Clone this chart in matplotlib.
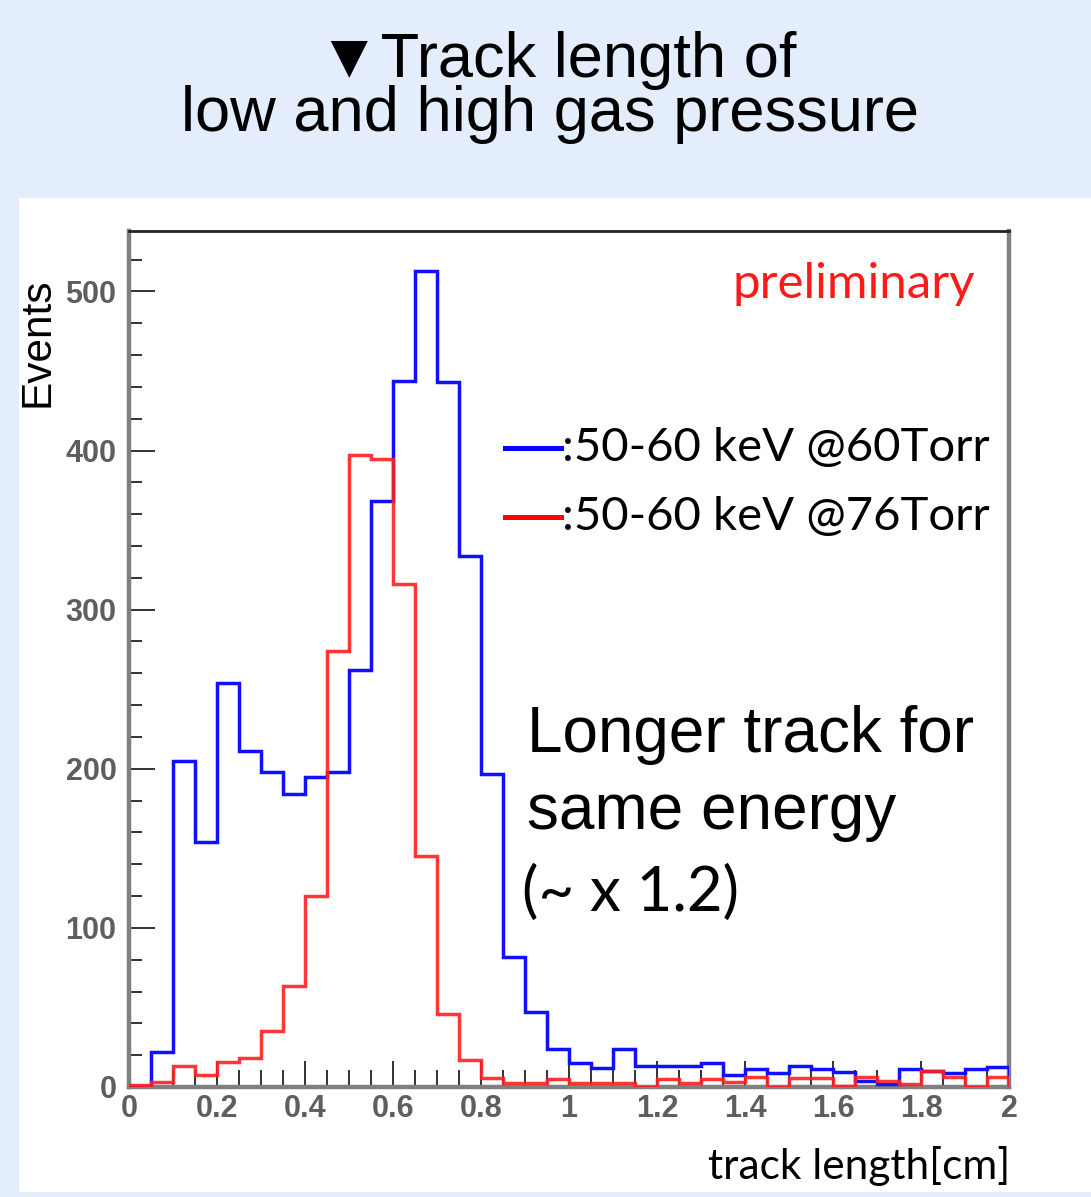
import numpy as np
import matplotlib
matplotlib.use("Agg")
import matplotlib.pyplot as plt
from matplotlib.patches import Rectangle
from matplotlib.lines import Line2D
from matplotlib.ticker import MultipleLocator

# ---------------- data ----------------
x_min, x_max, n_bins = 0.0, 2.0, 40
blue_counts = [0, 22, 205, 154, 254, 211, 198, 184, 195, 198,
               262, 368, 444, 513, 443, 334, 197, 82, 47, 24,
               15, 12, 24, 13, 13, 13, 15, 7.5, 11.5, 9,
               13, 11.5, 9.5, 4, 2, 11.5, 10, 9, 11.5, 12.5]
red_counts = [1, 3, 13, 7.5, 15.5, 18.5, 35, 63.5, 120, 274,
              397, 395, 316, 145, 46, 17, 5.5, 2.3, 2.3, 5,
              2.3, 2.3, 2.3, 0.3, 5, 2.3, 5, 3, 6, 0.3,
              5.5, 5.5, 0.5, 6, 3.7, 1.7, 10, 6, 0.3, 6]
legend_labels = [":50-60 keV @60Torr", ":50-60 keV @76Torr"]
x_ticks = [0, 0.2, 0.4, 0.6, 0.8, 1, 1.2, 1.4, 1.6, 1.8, 2]
x_tick_labels = ["0", "0.2", "0.4", "0.6", "0.8", "1", "1.2", "1.4", "1.6", "1.8", "2"]
y_ticks = [0, 100, 200, 300, 400, 500]
y_tick_labels = ["0", "100", "200", "300", "400", "500"]

W, H = 1091, 1197
fig = plt.figure(figsize=(W / 100, H / 100), dpi=100)
fig.patch.set_facecolor("#e3edfc")

def fx(x):
    return x / W

def fy(y):
    return 1 - y / H

# white panel
fig.patches.append(Rectangle((fx(19), fy(1192)), fx(1091) - fx(19), fy(198) - fy(1192),
                             transform=fig.transFigure, facecolor="white",
                             edgecolor="none", zorder=-5))

# axes
ax_l, ax_r, ax_t, ax_b = 129, 1009, 231, 1087
ax = fig.add_axes([fx(ax_l), fy(ax_b), (ax_r - ax_l) / W, (ax_b - ax_t) / H])
ax.set_zorder(2)
ax.set_facecolor("white")

edges = np.linspace(x_min, x_max, n_bins + 1)
ax.stairs(blue_counts, edges, color="#1010ff", linewidth=2.5, baseline=0, zorder=3)
ax.stairs(red_counts, edges, color="#ff2020", linewidth=2.5, baseline=0, zorder=4, alpha=0.9)

ax.set_xlim(0, 2)
ax.set_ylim(0, 538)

ax.set_xticks(x_ticks)
ax.set_xticklabels(x_tick_labels)
ax.set_yticks(y_ticks)
ax.set_yticklabels(y_tick_labels)
ax.xaxis.set_minor_locator(MultipleLocator(0.05))
ax.yaxis.set_minor_locator(MultipleLocator(20))

for lab in ax.get_xticklabels() + ax.get_yticklabels():
    lab.set_fontfamily(["Liberation Sans", "DejaVu Sans"])
    lab.set_fontweight("bold")
    lab.set_color("#5e5e5e")
    lab.set_fontsize(22)

ax.tick_params(axis="both", which="major", direction="in", length=19, width=1.3, color="#222222")
ax.tick_params(axis="y", which="minor", direction="in", length=9.5, width=1.3, color="#222222")
ax.tick_params(axis="x", which="minor", direction="in", length=12, width=1.3, color="#222222")
ax.tick_params(axis="y", which="major", pad=9)
ax.tick_params(axis="x", which="major", pad=5)

for side in ["left", "bottom", "right"]:
    ax.spines[side].set_color("#808080")
    ax.spines[side].set_linewidth(3.2)
ax.spines["top"].set_color("#222222")
ax.spines["top"].set_linewidth(2.0)

# texts
title_font = ["Liberation Sans", "DejaVu Sans"]
fig.text(fx(557), fy(60), "\u25bcTrack length of", ha="center", va="center",
         fontsize=45.5, family=title_font)
fig.text(fx(550), fy(114), "low and high gas pressure", ha="center", va="center",
         fontsize=45.5, family=title_font)

fig.text(fx(733), fy(284), "preliminary", ha="left", va="center",
         fontsize=35.5, family=["Lato", "DejaVu Sans"], color="#ff1a1a", zorder=5)

# legend
leg_y = [448, 517]
leg_col = ["#0000ff", "#ff0000"]
for yy, cc, lab in zip(leg_y, leg_col, legend_labels):
    fig.lines.append(Line2D([fx(505), fx(561)], [fy(yy), fy(yy)], color=cc,
                            linewidth=3.6, transform=fig.transFigure, zorder=5))
    fig.text(fx(562), fy(yy), lab, ha="left", va="center", fontsize=34,
             family=["Lato", "DejaVu Sans"], color="black", zorder=5)

fig.text(fx(527), fy(735), "Longer track for", ha="left", va="center",
         fontsize=46, family=title_font, zorder=5)
fig.text(fx(527), fy(812), "same energy", ha="left", va="center",
         fontsize=46, family=title_font, zorder=5)
fig.text(fx(522), fy(893), "(~ x 1.2)", ha="left", va="center",
         fontsize=44.5, family=["Lato", "DejaVu Sans"], zorder=5)

fig.text(fx(38), fy(342), "Events", rotation=90, ha="center", va="center",
         fontsize=30.5, family=["Liberation Sans", "DejaVu Sans"])
fig.text(fx(1010), fy(1166), "track length[cm]", ha="right", va="center",
         fontsize=30.5, family=["Lato", "DejaVu Sans"])

fig.savefig("out.png", dpi=100, facecolor=fig.get_facecolor())
